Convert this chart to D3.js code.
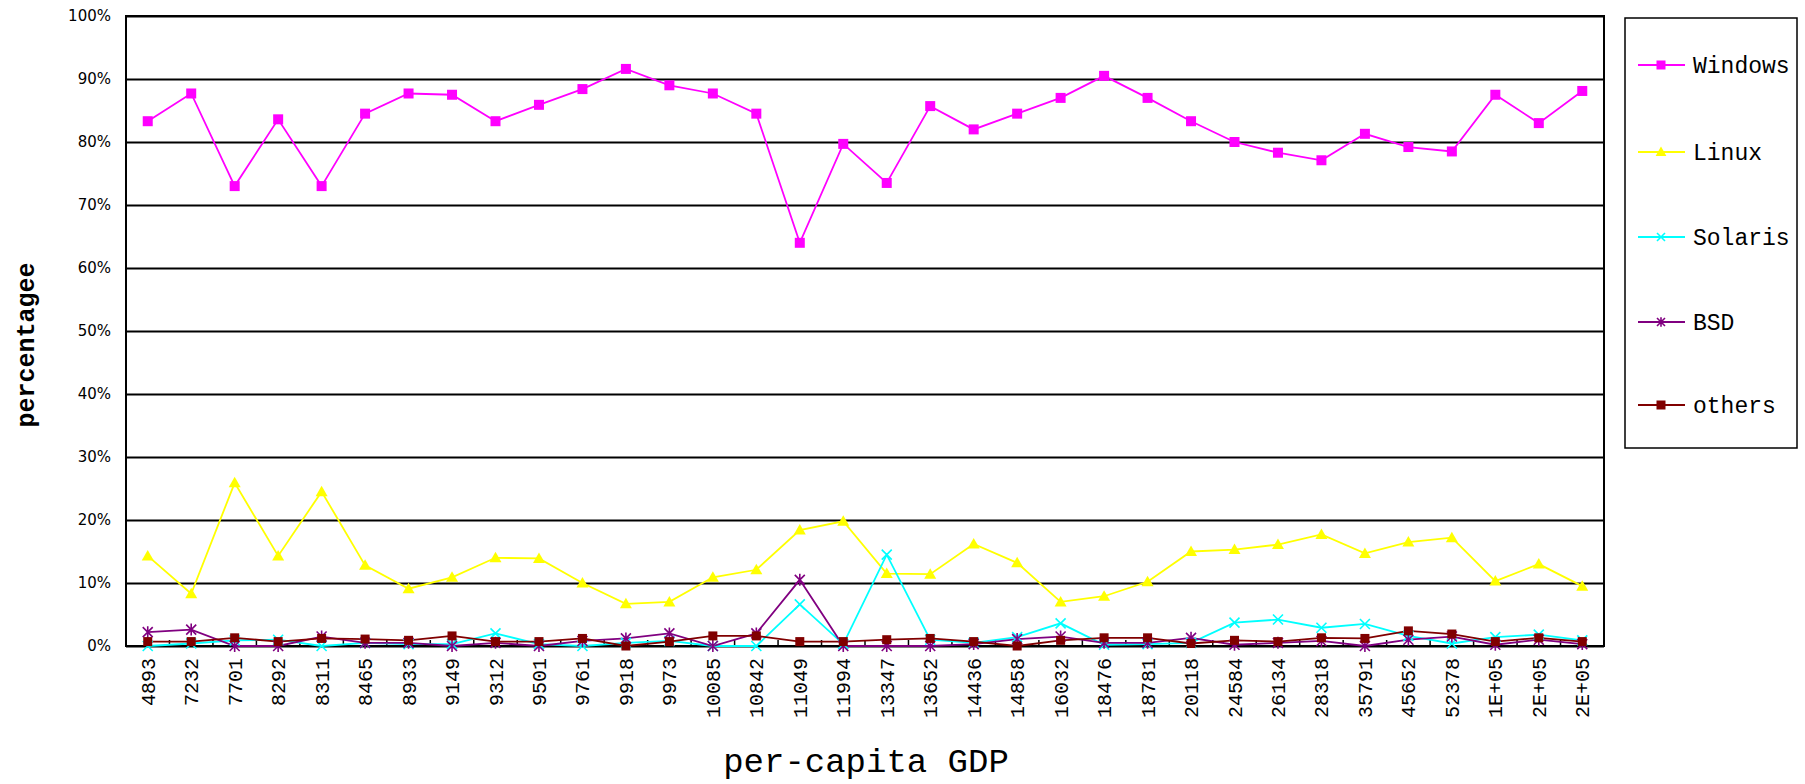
<!DOCTYPE html>
<html><head><meta charset="utf-8">
<script src="https://cdn.jsdelivr.net/npm/d3@7"></script>
<style>
html,body{margin:0;padding:0;background:#fff;}
svg{display:block;}
</style></head>
<body>
<svg id="chart" width="1805" height="784"></svg>
<script>
const categories = ["4893","7232","7701","8292","8311","8465","8933","9149","9312","9501","9761","9918","9973","10085","10842","11049","11994","13347","13652","14436","14858","16032","18476","18781","20118","24584","26134","28318","35791","45652","52378","1E+05","2E+05","2E+05"];
const windowsVals = [83.3,87.7,73.0,83.6,73.0,84.5,87.7,87.5,83.3,85.9,88.4,91.6,89.0,87.7,84.5,64.0,79.7,73.5,85.7,82.0,84.5,87.0,90.5,87.0,83.3,80.0,78.3,77.1,81.3,79.2,78.5,87.5,83.0,88.1];
const linuxVals = [14.3,8.3,25.9,14.3,24.5,12.8,9.1,10.9,14.0,13.9,10.0,6.7,7.0,10.9,12.1,18.4,19.8,11.5,11.4,16.2,13.2,7.0,7.9,10.2,15.0,15.3,16.1,17.7,14.7,16.5,17.2,10.3,13.0,9.5];
const solarisVals = [0.0,0.4,0.9,1.0,0.0,0.5,0.3,0.3,2.0,0.3,0.0,0.5,0.8,0.0,0.0,6.6,0.3,14.5,1.0,0.5,1.4,3.6,0.2,0.3,0.5,3.7,4.2,2.9,3.5,1.6,0.4,1.4,1.8,0.9];
const bsdVals = [2.2,2.6,0.0,0.0,1.5,0.5,0.5,0.0,0.5,0.0,0.8,1.2,2.0,0.0,2.0,10.5,0.0,0.0,0.0,0.3,1.1,1.5,0.5,0.5,1.3,0.2,0.5,0.8,0.0,1.0,1.5,0.2,1.0,0.3];
const othersVals = [0.7,0.7,1.3,0.7,1.2,1.1,0.9,1.6,0.7,0.7,1.2,0.0,0.7,1.6,1.6,0.7,0.7,1.0,1.2,0.7,0.0,0.9,1.3,1.3,0.4,0.9,0.7,1.3,1.2,2.4,1.9,0.7,1.3,0.7];
const seriesNames = ["Windows","Linux","Solaris","BSD","others"];
const yTicks = [0,10,20,30,40,50,60,70,80,90,100];
const xTitle = "per-capita GDP";
const yTitle = "percentagee";

const seriesValues = [windowsVals, linuxVals, solarisVals, bsdVals, othersVals];
const colors = ["#ff00ff","#ffff00","#00ffff","#800080","#800000"];
const markers = ["square","triangle","xbar","asterisk","square"];

const svg = d3.select("#chart");
const L = 126, R = 1604, T = 16, B = 646;
const idx = categories.map((c,i)=>i);
const x = d3.scaleBand().domain(idx).range([L,R]);
const y = d3.scaleLinear().domain([0,100]).range([B,T]);
const cx = i => x(i) + x.bandwidth()/2;

// gridlines + y labels
const yAxis = d3.axisLeft(y).tickValues(yTicks).tickSize(-(R-L)).tickFormat(d=>d+"%").tickPadding(15);
const gy = svg.append("g").attr("transform",`translate(${L},0)`).call(yAxis);
gy.select(".domain").remove();
gy.selectAll(".tick line").attr("stroke","#000").attr("stroke-width",2);
gy.selectAll(".tick text").attr("font-family","DejaVu Sans").attr("font-size",15).attr("fill","#000");

// plot border
svg.append("rect").attr("x",L).attr("y",T).attr("width",R-L).attr("height",B-T)
  .attr("fill","none").attr("stroke","#000").attr("stroke-width",2);

// x axis labels
const xAxis = d3.axisBottom(x).tickSize(0).tickFormat(i=>categories[i]);
const gx = svg.append("g").attr("transform",`translate(0,${B})`).call(xAxis);
gx.select(".domain").remove();
gx.selectAll(".tick text")
  .attr("font-family","Liberation Mono").attr("font-size",20).attr("fill","#000")
  .attr("text-anchor","end").attr("dy","0.35em")
  .attr("transform","translate(0,12) rotate(-90)").attr("x",0).attr("y",0);
// inner tick marks at band boundaries
const bounds = idx.concat([categories.length]);
svg.append("g").selectAll("line").data(bounds).join("line")
  .attr("x1",i=> i<categories.length ? x(i) : x(i-1)+x.step())
  .attr("x2",i=> i<categories.length ? x(i) : x(i-1)+x.step())
  .attr("y1",B).attr("y2",B-6).attr("stroke","#000").attr("stroke-width",1.5);

function drawMarker(g, type, color, size){
  const s = size;
  if(type==="square"){
    g.append("rect").attr("x",-s/2).attr("y",-s/2).attr("width",s).attr("height",s).attr("fill",color);
  } else if(type==="triangle"){
    g.append("path").attr("d",`M0,${-s*0.6}L${s*0.6},${s*0.45}L${-s*0.6},${s*0.45}Z`).attr("fill",color);
  } else if(type==="xbar"){
    const h = s*0.5;
    g.append("path").attr("d",`M${-h},${-h}L${h},${h}M${-h},${h}L${h},${-h}`).attr("stroke",color).attr("stroke-width",1.6).attr("fill","none");
  } else if(type==="asterisk"){
    const h = s*0.5;
    g.append("path").attr("d",`M${-h},${-h}L${h},${h}M${-h},${h}L${h},${-h}M0,${-h*1.2}L0,${h*1.2}`).attr("stroke",color).attr("stroke-width",1.6).attr("fill","none");
  }
}

const line = d3.line().x((d,i)=>cx(i)).y(d=>y(d));
seriesValues.forEach((vals,k)=>{
  svg.append("path").datum(vals).attr("d",line).attr("fill","none")
    .attr("stroke",colors[k]).attr("stroke-width",1.8);
});
seriesValues.forEach((vals,k)=>{
  const g = svg.append("g");
  vals.forEach((v,i)=>{
    const mg = g.append("g").attr("transform",`translate(${cx(i)},${y(v)})`);
    drawMarker(mg, markers[k], colors[k], k===4?9:10);
  });
});

// legend
const lg = svg.append("g");
lg.append("rect").attr("x",1625).attr("y",18).attr("width",172).attr("height",430)
  .attr("fill","#fff").attr("stroke","#000").attr("stroke-width",1.5);
const legY = [65,152,237,322,405];
seriesNames.forEach((n,k)=>{
  const yy = legY[k];
  lg.append("line").attr("x1",1638).attr("x2",1685).attr("y1",yy).attr("y2",yy)
    .attr("stroke",colors[k]).attr("stroke-width",1.8);
  const mg = lg.append("g").attr("transform",`translate(1661,${yy})`);
  drawMarker(mg, markers[k], colors[k], k===2||k===3?8:9);
  lg.append("text").attr("x",1693).attr("y",yy).attr("dy","0.35em")
    .attr("font-family","Liberation Mono").attr("font-size",23).attr("fill","#000").text(n);
});

// titles
svg.append("text").attr("x",866).attr("y",772).attr("text-anchor","middle")
  .attr("font-family","Liberation Mono").attr("font-size",34).attr("fill","#000").text(xTitle);
svg.append("text").attr("transform","translate(34,345) rotate(-90)").attr("text-anchor","middle")
  .attr("font-family","Liberation Mono").attr("font-weight","bold").attr("font-size",25).attr("fill","#000").text(yTitle);
</script>
</body></html>
